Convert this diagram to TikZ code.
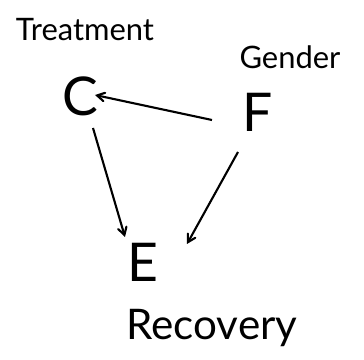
\documentclass[tikz,border=0pt]{standalone}
\usepackage{fontspec}
\setmainfont{Lato}
\usetikzlibrary{positioning}
\usetikzlibrary{arrows,shapes}
\tikzstyle{letter}=[inner sep=1pt,font=\fontsize{38}{40}\selectfont]
\tikzstyle{caption}=[inner sep=0pt,font=\fontsize{22}{26}\selectfont]
\tikzstyle{edge} = [draw,line width=1.5pt,->,>=angle 60]

\begin{document}
\begin{tikzpicture}[x=0.025cm,y=-0.025cm]
\useasboundingbox (0,0) rectangle (364,360);

    % the three variables
    \foreach \pos/\name/\label in {{(80,96)/C/C}, {(258,112)/F/F}, {(143,262)/E/E}}
        \node[letter] (\name) at \pos {\label};

    % what each one stands for
    \node[caption] (treat) at (85,30) {Treatment};
    \node[caption] (gend) at (290,57) {Gender};
    \node[caption,font=\fontsize{30}{34}\selectfont] (recov) at (212,328) {Recovery};

    % arrows, hand drawn so they miss the centres
    \path[edge] ([shift={(-46,8)}]F.center) -- ([shift={(15,-1)}]C.center);
    \path[edge] ([shift={(13,32)}]C.center) -- ([shift={(-18,-25)}]E.center);
    \path[edge] ([shift={(-20,40)}]F.center) -- ([shift={(44,-18)}]E.center);

\end{tikzpicture}
\end{document}
